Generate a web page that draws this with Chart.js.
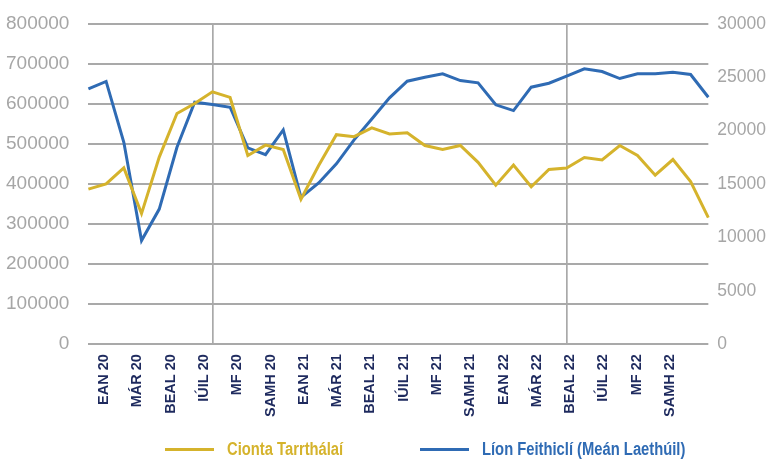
<!DOCTYPE html>
<html>
<head>
<meta charset="utf-8">
<script src="https://cdn.jsdelivr.net/npm/chart.js@4.4.1/dist/chart.umd.min.js"></script>
<style>
  html, body { margin: 0; padding: 0; background: #fff; }
  #wrap { position: relative; width: 769px; height: 461px; }
  #legend { position: absolute; left: 0; top: 0; width: 769px; height: 461px; pointer-events: none; }
  #legend .item {
    position: absolute; top: 438px; height: 22px;
    display: flex; align-items: center; white-space: nowrap;
    font: bold 18px "Liberation Sans", Arial, sans-serif;
  }
  #legend .swatch { width: 49px; height: 3px; margin-right: 13px; flex: none; }
  #legend .txt { display: inline-block; transform: scaleX(0.82); transform-origin: left center; }
</style>
</head>
<body>
<div id="wrap">
  <canvas id="chart" width="769" height="461"></canvas>
  <div id="legend"></div>
</div>
<script>
var months = [
  'EAN 20', 'FEABH 20', 'MÁR 20', 'AIB 20', 'BEAL 20', 'MEITH 20',
  'IÚIL 20', 'LÚN 20', 'MF 20', 'DF 20', 'SAMH 20', 'NOLL 20',
  'EAN 21', 'FEABH 21', 'MÁR 21', 'AIB 21', 'BEAL 21', 'MEITH 21',
  'IÚIL 21', 'LÚN 21', 'MF 21', 'DF 21', 'SAMH 21', 'NOLL 21',
  'EAN 22', 'FEABH 22', 'MÁR 22', 'AIB 22', 'BEAL 22', 'MEITH 22',
  'IÚIL 22', 'LÚN 22', 'MF 22', 'DF 22', 'SAMH 22', 'NOLL 22'
];

// every second month is labelled on the axis
var tickLabels = [
  'EAN 20', 'MÁR 20', 'BEAL 20', 'IÚIL 20', 'MF 20', 'SAMH 20',
  'EAN 21', 'MÁR 21', 'BEAL 21', 'IÚIL 21', 'MF 21', 'SAMH 21',
  'EAN 22', 'MÁR 22', 'BEAL 22', 'IÚIL 22', 'MF 22', 'SAMH 22'
];

var cionta = [
  387000, 400000, 440000, 326000, 467000, 576000,
  601000, 630000, 616000, 471000, 497000, 486000,
  362000, 446000, 523000, 518000, 540000, 525000,
  528000, 496000, 486000, 496000, 454000, 397000,
  447000, 393000, 436000, 440000, 466000, 460000,
  496000, 471000, 422000, 461000, 406000, 316000
];

var feithicli = [
  23900, 24600, 18900, 9700, 12650, 18430,
  22650, 22430, 22180, 18380, 17750, 20060,
  13740, 15090, 16880, 19130, 21090, 23060,
  24620, 24990, 25310, 24680, 24470, 22410,
  21870, 24060, 24430, 25090, 25780, 25530,
  24870, 25310, 25310, 25460, 25250, 23120
];

var leftTicks = [0, 100000, 200000, 300000, 400000, 500000, 600000, 700000, 800000];
var rightTicks = [0, 5000, 10000, 15000, 20000, 25000, 30000];
var markedMonths = [7, 27];

var YELLOW = '#d5b32c';
var BLUE = '#2f6bb4';
var GRID = '#a9a9a9';

var ctx = document.getElementById('chart').getContext('2d');

var chart = new Chart(ctx, {
  type: 'line',
  data: {
    labels: months,
    datasets: [{
      label: 'Cionta Tarrthálaí',
      data: cionta,
      borderColor: YELLOW,
      backgroundColor: YELLOW,
      borderWidth: 3,
      pointRadius: 0,
      tension: 0,
      yAxisID: 'y',
      xAxisID: 'x'
    }, {
      label: 'Líon Feithiclí (Meán Laethúil)',
      data: feithicli,
      borderColor: BLUE,
      backgroundColor: BLUE,
      borderWidth: 3,
      pointRadius: 0,
      tension: 0,
      yAxisID: 'y1',
      xAxisID: 'x'
    }]
  },
  options: {
    responsive: false,
    animation: false,
    layout: { padding: { left: -13, right: -6, top: 16, bottom: 34 } },
    plugins: {
      legend: { display: false },
      tooltip: { enabled: false }
    },
    scales: {
      x: {
        type: 'category',
        position: 'bottom',
        offset: false,
        weight: 0,
        border: { display: false },
        grid: {
          drawTicks: false,
          lineWidth: 1.7,
          color: function (c) {
            return markedMonths.indexOf(c.index) >= 0 ? GRID : 'rgba(0,0,0,0)';
          }
        },
        ticks: { display: false, autoSkip: false }
      },
      xl: {
        type: 'linear',
        position: 'bottom',
        weight: 1,
        min: -0.945,
        max: 36.3,
        border: { display: false },
        grid: { display: false, drawTicks: false },
        afterBuildTicks: function (axis) {
          axis.ticks = tickLabels.map(function (t, i) { return { value: i * 2 }; });
        },
        ticks: {
          autoSkip: false,
          minRotation: 90,
          maxRotation: 90,
          padding: 10,
          color: '#1e2a5e',
          font: { family: '"Liberation Sans", Arial, sans-serif', size: 14.5, weight: 'bold' },
          callback: function (v, i) { return tickLabels[i]; }
        }
      },
      y: {
        position: 'left',
        min: 0,
        max: 800000,
        border: { display: false },
        grid: { color: GRID, lineWidth: 2, drawTicks: false },
        afterBuildTicks: function (axis) {
          axis.ticks = leftTicks.map(function (v) { return { value: v }; });
        },
        ticks: {
          padding: 19,
          color: '#a6a6a6',
          font: { family: '"Liberation Sans", Arial, sans-serif', size: 19, lineHeight: 0.5 },
          callback: function (v) { return String(v); }
        }
      },
      y1: {
        position: 'right',
        min: 0,
        max: 30000,
        border: { display: false },
        grid: { display: false, drawTicks: false },
        afterBuildTicks: function (axis) {
          axis.ticks = rightTicks.map(function (v) { return { value: v }; });
        },
        ticks: {
          padding: 9,
          color: '#a6a6a6',
          font: { family: '"Liberation Sans", Arial, sans-serif', size: 17.5, lineHeight: 0.5 },
          callback: function (v) { return String(v); }
        }
      }
    }
  }
});

// legend entries built from the datasets
var legendEl = document.getElementById('legend');
var legendLeft = [165, 420];
chart.data.datasets.forEach(function (ds, i) {
  var item = document.createElement('div');
  item.className = 'item';
  item.style.left = legendLeft[i] + 'px';
  var sw = document.createElement('span');
  sw.className = 'swatch';
  sw.style.background = ds.borderColor;
  var txt = document.createElement('span');
  txt.className = 'txt';
  txt.textContent = ds.label;
  txt.style.color = ds.borderColor;
  item.appendChild(sw);
  item.appendChild(txt);
  legendEl.appendChild(item);
});
</script>
</body>
</html>
